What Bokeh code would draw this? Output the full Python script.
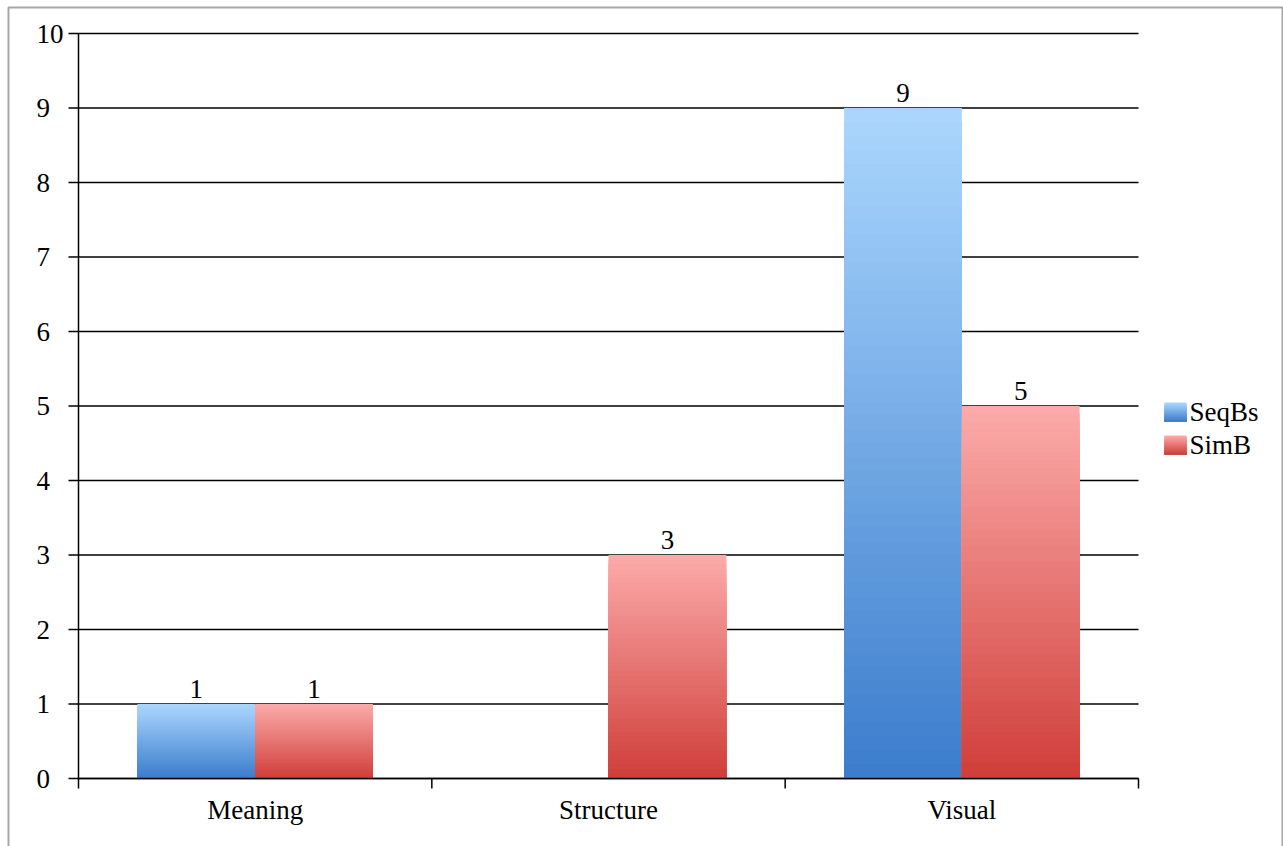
from bokeh.plotting import figure
from bokeh.models import Range1d, ColumnDataSource
from bokeh.core.properties import value
from bokeh.embed import file_html
from bokeh.resources import INLINE

# ---------------- data ----------------
categories = ["Meaning", "Structure", "Visual"]
series_names = ["SeqBs", "SimB"]
seqbs = [1, 0, 9]
simb = [1, 3, 5]
y_ticks = [0, 1, 2, 3, 4, 5, 6, 7, 8, 9, 10]

# ---------------- style ----------------
FONT = "Liberation Serif"
FS = "27px"
blue_top, blue_bot = (170, 214, 253), (60, 125, 205)
red_top, red_bot = (251, 170, 169), (208, 63, 58)

W, H = 1283, 846
FL, FR, FT, FB = 78, 1138, 33, 778       # plot-area pixel box
ppx = (FR - FL) / len(categories)        # px per category
ppy = (FB - FT) / 10.0


def dx(px):
    return (px - FL) / ppx


def dy(py):
    return (FB - py) / ppy


p = figure(width=W, height=H, output_backend="svg", toolbar_location=None,
           x_range=Range1d(dx(0), dx(W)), y_range=Range1d(dy(H), dy(0)),
           x_axis_location=None, y_axis_location=None,
           min_border=0, min_border_left=0, min_border_right=0,
           min_border_top=0, min_border_bottom=0)
p.outline_line_color = None
p.grid.visible = False
p.background_fill_color = "white"
p.border_fill_color = "white"


def mix(c1, c2, t):
    return "#%02x%02x%02x" % tuple(int(round(a + (b - a) * t)) for a, b in zip(c1, c2))


def grad_quads(lefts, rights, bottoms, tops, ctop, cbot, n=48):
    L, R, B, T, C = [], [], [], [], []
    for l, r, b, t in zip(lefts, rights, bottoms, tops):
        if t <= b:
            continue
        for k in range(n):
            L.append(l); R.append(r); B.append(b)
            T.append(b + (t - b) * (n - k) / n)
            C.append(mix(ctop, cbot, k / (n - 1)))
    return dict(left=L, right=R, bottom=B, top=T, color=C)


ncat = len(categories)
bw = 1.0 / 3.0
centers = [i + 0.5 for i in range(ncat)]
blue_l = [c - bw for c in centers]
red_l = centers

# outer chart border
p.quad(left=[dx(8)], right=[dx(1282)], top=[dy(7)], bottom=[dy(H + 20)],
       fill_color=None, line_color="#a6a6a6", line_width=2)

# horizontal grid lines
p.segment(x0=[0] * len(y_ticks), x1=[ncat] * len(y_ticks), y0=y_ticks, y1=y_ticks,
          line_color="black", line_width=1.3)

# bars
sb = ColumnDataSource(grad_quads(blue_l, centers, [0] * ncat, seqbs, blue_top, blue_bot))
sr = ColumnDataSource(grad_quads(red_l, [c + bw for c in centers], [0] * ncat, simb,
                                 red_top, red_bot))
p.quad(left="left", right="right", bottom="bottom", top="top", fill_color="color",
       line_color=None, source=sb)
p.quad(left="left", right="right", bottom="bottom", top="top", fill_color="color",
       line_color=None, source=sr)

# axes
tick_x = 10 / ppx
tick_y = 10 / ppy
p.segment(x0=[0], x1=[0], y0=[0], y1=[y_ticks[-1]], line_color="black", line_width=1.5)
p.segment(x0=[-tick_x] * len(y_ticks), x1=[0] * len(y_ticks), y0=y_ticks, y1=y_ticks,
          line_color="black", line_width=1.5)
p.segment(x0=[0], x1=[ncat], y0=[0], y1=[0], line_color="black", line_width=1.5)
bnd = list(range(ncat + 1))
p.segment(x0=bnd, x1=bnd, y0=[0] * len(bnd), y1=[-tick_y] * len(bnd),
          line_color="black", line_width=1.5)

# y tick labels (left aligned as in the original)
p.text(x=[dx(36)] * len(y_ticks), y=y_ticks, text=[str(v) for v in y_ticks],
       text_align="left", text_baseline="middle", text_font=value(FONT),
       text_font_size=FS, text_color="black")

# category labels
p.text(x=centers, y=[dy(809)] * ncat, text=categories, text_align="center",
       text_baseline="middle", text_font=value(FONT), text_font_size=FS,
       text_color="black")

# value labels
lx, ly, lt = [], [], []
for xs, vals in ((blue_l, seqbs), (red_l, simb)):
    for x0, v in zip(xs, vals):
        if v > 0:
            lx.append(x0 + bw / 2); ly.append(v + 15 / ppy); lt.append(str(v))
p.text(x=lx, y=ly, text=lt, text_align="center", text_baseline="middle",
       text_font=value(FONT), text_font_size=FS, text_color="black")

# legend with gradient swatches
leg_rows = [(402, 421, blue_top, blue_bot), (435, 454, red_top, red_bot)]
for (t_px, b_px, ct, cb) in leg_rows:
    src = grad_quads([dx(1164)], [dx(1186)], [dy(b_px)], [dy(t_px)], ct, cb, n=20)
    p.quad(left="left", right="right", bottom="bottom", top="top", fill_color="color",
           line_color=None, source=ColumnDataSource(src))
p.text(x=[dx(1189)] * 2, y=[dy((r[0] + r[1]) / 2) for r in leg_rows], text=series_names,
       text_align="left", text_baseline="middle", text_font=value(FONT),
       text_font_size=FS, text_color="black")

open("out.html", "w").write(file_html(p, INLINE))
